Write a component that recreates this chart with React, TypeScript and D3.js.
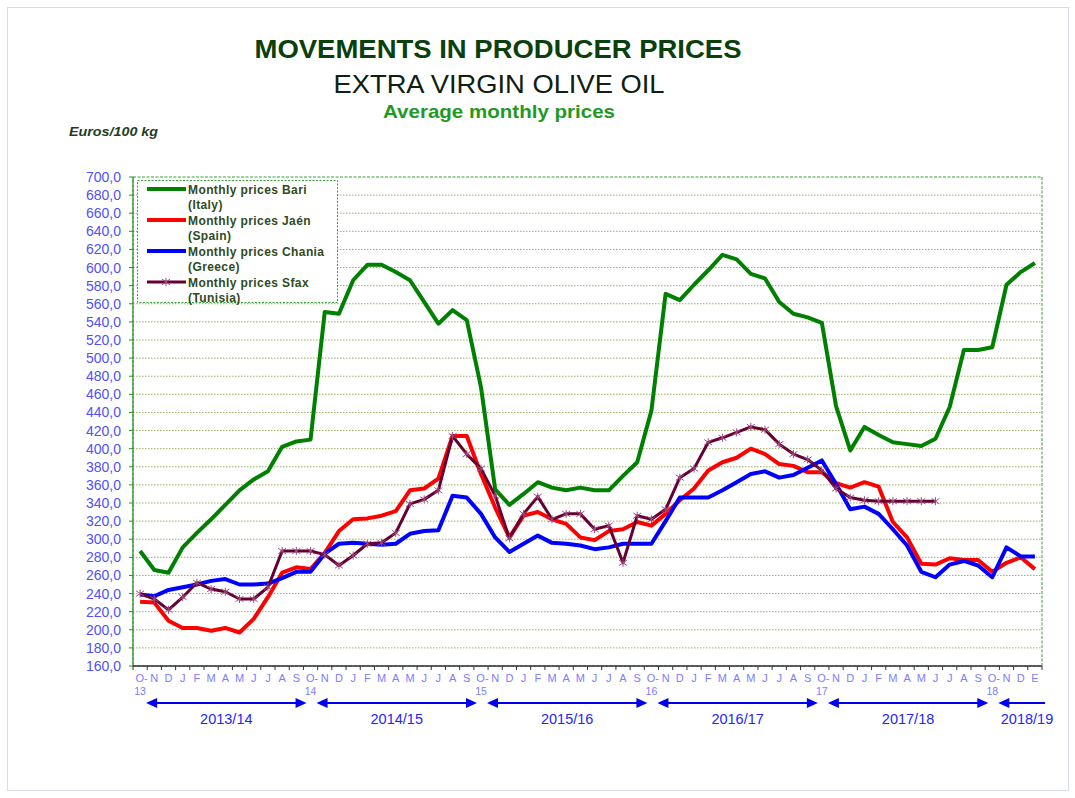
import React from "react";
import * as d3 from "d3";

// monthly prices, Oct 2013 .. Jan 2019 (euros / 100 kg)
const bari = [287, 266, 263, 291, 307, 322, 338, 354, 366, 375, 402, 408, 410,
  551, 549, 586, 603, 603, 595, 586, 562, 538, 553, 542, 468,
  355, 338, 350, 363, 357, 354, 357, 354, 354, 370, 385, 442,
  571, 564, 581, 597, 614, 609, 593, 588, 562, 549, 545, 539,
  447, 398, 424, 415, 407, 405, 403, 411, 446, 509, 509, 512,
  581, 595, 605];
const jaen = [231, 230, 210, 202, 202, 199, 202, 197, 212, 236, 263, 269, 267,
  285, 309, 322, 323, 326, 331, 354, 356, 367, 414, 414, 372,
  335, 302, 326, 330, 322, 317, 302, 299, 309, 311, 319, 315,
  328, 343, 356, 376, 385, 390, 400, 394, 383, 381, 374, 374,
  362, 357, 363, 358, 319, 302, 273, 272, 279, 277, 277, 264,
  274, 280, 267];
const chania = [239, 237, 244, 247, 250, 254, 256, 250, 250, 251, 257, 264, 264,
  284, 295, 296, 295, 294, 295, 306, 309, 310, 348, 346, 328,
  302, 286, 295, 304, 296, 295, 293, 289, 291, 295, 295, 295,
  320, 346, 346, 346, 354, 363, 372, 375, 368, 371, 379, 387,
  361, 333, 336, 328, 311, 293, 264, 258, 272, 276, 271, 258,
  291, 281, 281];
const sfax = [240, 234, 222, 236, 252, 245, 242, 234, 234, 247, 287, 287, 287,
  283, 271, 282, 295, 296, 307, 339, 344, 354, 414, 394, 378,
  348, 301, 328, 347, 322, 328, 328, 311, 315, 274, 326, 322,
  333, 368, 378, 407, 412, 418, 424, 421, 405, 394, 388, 376,
  356, 346, 343, 342, 342, 342, 342, 342];

const monthCycle = ["O", "N", "D", "J", "F", "M", "A", "M", "J", "J", "A", "S"];
const tailMonths = ["O", "N", "D", "E"];
const yearTags = ["13", "14", "15", "16", "17", "18"];
const seasons = ["2013/14", "2014/15", "2015/16", "2016/17", "2017/18", "2018/19"];
const yTicks = d3.range(160, 701, 20);

const series = [
  { name: "Monthly prices Bari", sub: "(Italy)", values: bari, color: "#008000", w: 4 },
  { name: "Monthly prices Jaén", sub: "(Spain)", values: jaen, color: "#ff0000", w: 4 },
  { name: "Monthly prices Chania", sub: "(Greece)", values: chania, color: "#0000ff", w: 4 },
  { name: "Monthly prices Sfax", sub: "(Tunisia)", values: sfax, color: "#660033", w: 3, star: true },
];

const font = "'Liberation Sans', Arial, sans-serif";

export default function App() {
  const left = 133, right = 1042, top = 177, bottom = 666;
  const months = [...d3.range(5).flatMap(() => monthCycle), ...tailMonths];

  const x = d3.scaleBand<number>().domain(d3.range(months.length)).range([left, right]);
  const cx = (i: number) => (x(i) as number) + x.bandwidth() / 2;
  const y = d3.scaleLinear().domain([160, 700]).range([bottom, top]);
  const fmt = (v: number) => d3.format(".1f")(v).replace(".", ",");

  const line = d3.line<number>().x((d, i) => cx(i)).y((d) => y(d));

  const star = (px: number, py: number, r: number) =>
    `M${px},${py - r}L${px},${py + r}M${px - r},${py - r * 0.7}L${px + r},${py + r * 0.7}M${px - r},${py + r * 0.7}L${px + r},${py - r * 0.7}`;

  const arrowY = 703;
  const arrows = seasons.map((s, k) => {
    const x0 = cx(12 * k) + 6;
    const x1 = k < 5 ? cx(12 * k + 12) - 4 : right + 3;
    return { s, x0, x1, both: k < 5 };
  });

  return (
    <svg width={1075} height={798} style={{ position: "absolute", left: 0, top: 0 }} fontFamily={font}>
      <rect x={7.5} y={7.5} width={1061} height={783} fill="#fff" stroke="#d8dcea" />

      <text x={498} y={58} textAnchor="middle" fontSize={25} fontWeight="bold" fill="#0a400a" textLength={487} lengthAdjust="spacingAndGlyphs">MOVEMENTS IN PRODUCER PRICES</text>
      <text x={499} y={93} textAnchor="middle" fontSize={25} fill="#102010" textLength={331} lengthAdjust="spacingAndGlyphs">EXTRA VIRGIN OLIVE OIL</text>
      <text x={499} y={118} textAnchor="middle" fontSize={19} fontWeight="bold" fill="#1f9a1f" textLength={232} lengthAdjust="spacingAndGlyphs">Average monthly prices</text>
      <text x={69} y={136} fontSize={12} fontWeight="bold" fontStyle="italic" fill="#1e3d1e" textLength={89} lengthAdjust="spacingAndGlyphs">Euros/100 kg</text>

      {/* grid */}
      {yTicks.filter((t) => t > 160 && t < 700).map((t) => (
        <line key={t} x1={left} x2={right} y1={y(t)} y2={y(t)} stroke="#9bb060" strokeDasharray="1.5,1.5" />
      ))}
      <rect x={left} y={top} width={right - left} height={bottom - top} fill="none" stroke="#3aa03a" strokeDasharray="3,1.5" />
      <line x1={left} x2={left} y1={top} y2={bottom} stroke="#2a902a" strokeWidth={1.2} />

      {/* y axis */}
      {yTicks.map((t) => (
        <g key={t}>
          <line x1={left - 4} x2={left} y1={y(t)} y2={y(t)} stroke="#2a902a" />
          <text x={121} y={y(t) + 5} textAnchor="end" fontSize={14} fill="#5050ff">{fmt(t)}</text>
        </g>
      ))}

      {/* x axis */}
      <line x1={left} x2={right} y1={bottom} y2={bottom} stroke="#333" strokeWidth={1.5} />
      {d3.range(months.length + 1).map((i) => {
        const xx = left + i * x.bandwidth();
        return <line key={i} x1={xx} x2={xx} y1={bottom} y2={bottom + 4} stroke="#333" />;
      })}
      {months.map((m, i) => (
        <g key={i}>
          <text x={cx(i) + (i % 12 === 0 ? 1.5 : 0)} y={682} textAnchor="middle" fontSize={11} fill="#7c7cff">{i % 12 === 0 ? m + "-" : m}</text>
          {i % 12 === 0 && (
            <text x={cx(i)} y={694.5} textAnchor="middle" fontSize={10.5} fill="#7c7cff">{yearTags[i / 12]}</text>
          )}
        </g>
      ))}

      {/* season arrows */}
      {arrows.map((a) => (
        <g key={a.s}>
          <line x1={a.x0 + 8} x2={a.both ? a.x1 - 8 : a.x1} y1={arrowY} y2={arrowY} stroke="#0000ee" strokeWidth={2} />
          <path d={`M${a.x0},${arrowY}L${a.x0 + 11},${arrowY - 5}L${a.x0 + 11},${arrowY + 5}Z`} fill="#0000ee" />
          {a.both && <path d={`M${a.x1},${arrowY}L${a.x1 - 11},${arrowY - 5}L${a.x1 - 11},${arrowY + 5}Z`} fill="#0000ee" />}
          <text x={a.both ? (a.x0 + a.x1) / 2 : 1027} y={724} textAnchor="middle" fontSize={14.5} fill="#2424ff">{a.s}</text>
        </g>
      ))}

      {/* series */}
      {series.map((s) => (
        <g key={s.name}>
          <path d={line(s.values) || ""} fill="none" stroke={s.color} strokeWidth={s.w} strokeLinejoin="round" />
          {s.star && s.values.map((v, i) => (
            <path key={i} d={star(cx(i), y(v), 4)} stroke="#a04a80" strokeWidth={1} fill="none" />
          ))}
        </g>
      ))}

      {/* legend */}
      <rect x={137.5} y={180.5} width={200} height={122} fill="#fff" stroke="#3aa03a" strokeDasharray="2,1.5" />
      {series.map((s, k) => {
        const ly = 189 + k * 31;
        return (
          <g key={s.name}>
            <line x1={147} x2={186} y1={ly} y2={ly} stroke={s.color} strokeWidth={s.w} />
            {s.star && <path d={star(166, ly, 4)} stroke="#a04a80" strokeWidth={1} fill="none" />}
            <text x={188} y={ly + 4.5} fontSize={12} fontWeight="bold" fill="#2f4a22" letterSpacing={0.4}>{s.name}</text>
            <text x={188} y={ly + 19.5} fontSize={12} fontWeight="bold" fill="#2f4a22" letterSpacing={0.4}>{s.sub}</text>
          </g>
        );
      })}
    </svg>
  );
}
